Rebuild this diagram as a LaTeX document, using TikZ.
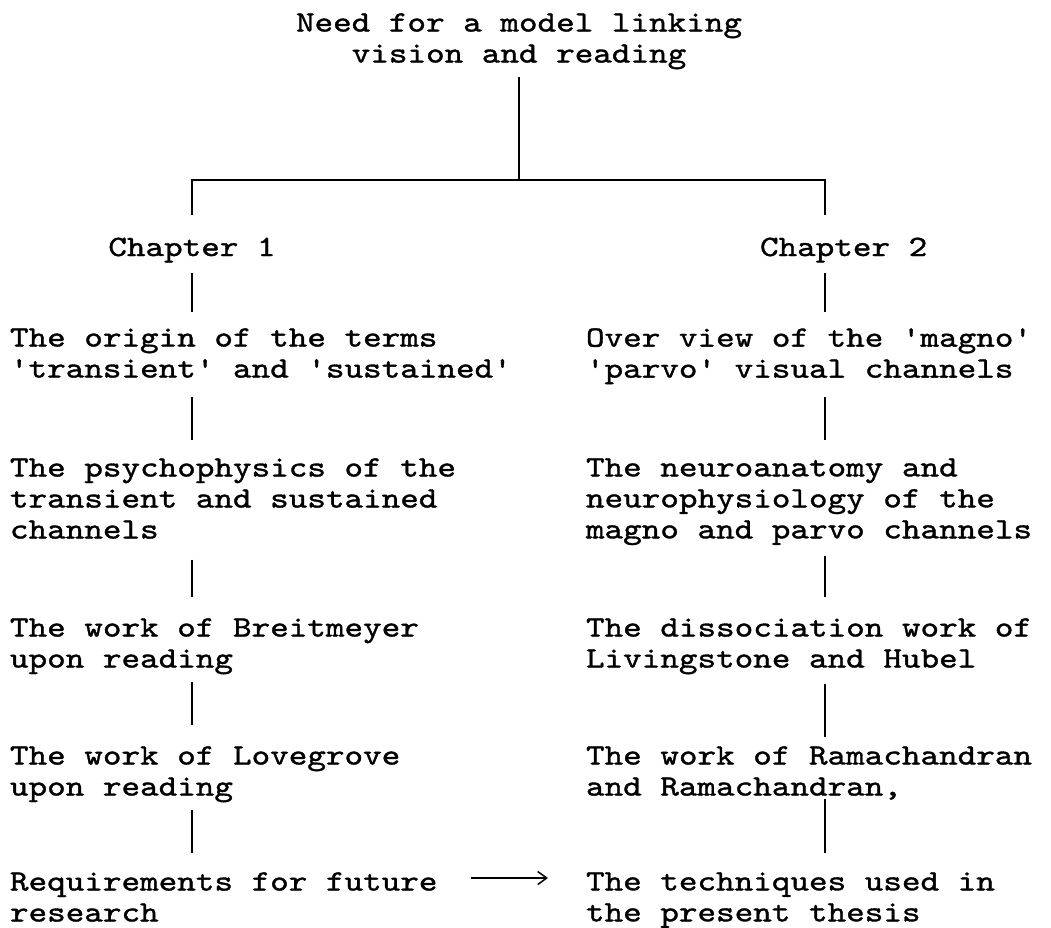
\documentclass[tikz,border=0pt]{standalone}
\usepackage{fontspec}
\setmonofont[FakeStretch=1.2,FakeBold=1.2]{lmmono10-regular.otf}
\usetikzlibrary{arrows.meta}
\begin{document}
\begin{tikzpicture}[x=1pt,y=-1pt,
  txt/.style={font=\fontsize{29.5}{31}\selectfont\ttfamily, inner sep=0pt, outer sep=0pt, align=left, anchor=north west,
    execute at begin node=\strut, execute at end node=\strut},
  link/.style={draw=black, line width=1.7pt},
  arr/.style={draw=black, line width=1.3pt, -{Straight Barb[length=9pt,width=13pt,line width=1.5pt]}}]
\path[use as bounding box, fill=white] (0,0) rectangle (1051,927);
\coordinate (L) at (192,0);
\coordinate (R) at (825,0);
\coordinate (bar) at (519,180);
\coordinate (ay) at (0,878);
% nodes
\node[txt, align=center, anchor=north] (title) at (519,13.3) {Need for a model linking\\vision and reading};
\node[txt, anchor=north] (ch1) at (192,234.3) {Chapter 1};
\node[txt] (ch2) at (760,234.3) {Chapter 2};
\node[txt] (o1) at (10,328.3) {The origin of the terms\\'transient' and 'sustained'};
\node[txt] (ov) at (586,328.3) {Over view of the 'magno'\\'parvo' visual channels};
\node[txt] (ps) at (10,458.3) {The psychophysics of the\\transient and sustained\\channels};
\node[txt] (ne) at (586,458.3) {The neuroanatomy and\\neurophysiology of the\\magno and parvo channels};
\node[txt] (br) at (10,618.3) {The work of Breitmeyer\\upon reading};
\node[txt] (di) at (586,618.3) {The dissociation work of\\Livingstone and Hubel};
\node[txt] (lo) at (10,746.3) {The work of Lovegrove\\upon reading};
\node[txt] (ra) at (586,746.3) {The work of Ramachandran\\and Ramachandran,};
\node[txt] (rq) at (10,872.3) {Requirements for future\\research};
\node[txt] (te) at (586,872.3) {The techniques used in\\the present thesis};
% connectors
\draw[link, shorten <=4.7pt] (title.south) -- (bar);
\draw[link, shorten >=19.3pt] (bar) -| (ch1.north -| L);
\draw[link, shorten >=19.3pt] (bar) -| (ch2.north -| R);
% left column
\draw[link, shorten <=7.7pt, shorten >=16.3pt] (ch1.south -| L) -- (o1.north -| L);
\draw[link, shorten <=9.7pt, shorten >=18.3pt] (o1.south -| L) -- (ps.north -| L);
\draw[link, shorten <=11.7pt, shorten >=21.3pt] (ps.south -| L) -- (br.north -| L);
\draw[link, shorten <=4.7pt, shorten >=21.3pt] (br.south -| L) -- (lo.north -| L);
\draw[link, shorten <=4.7pt, shorten >=19.3pt] (lo.south -| L) -- (rq.north -| L);
% right column
\draw[link, shorten <=7.7pt, shorten >=16.3pt] (ch2.south -| R) -- (ov.north -| R);
\draw[link, shorten <=9.7pt, shorten >=18.3pt] (ov.south -| R) -- (ne.north -| R);
\draw[link, shorten <=8.7pt, shorten >=21.3pt] (ne.south -| R) -- (di.north -| R);
\draw[link, shorten <=6.7pt, shorten >=9.3pt] (di.south -| R) -- (ra.north -| R);
\draw[link, shorten <=-6.3pt, shorten >=19.3pt] (ra.south -| R) -- (te.north -| R);
% arrow
\draw[arr, shorten <=34pt, shorten >=38pt] (rq.north east |- ay) -- (te.north west |- ay);
\end{tikzpicture}
\end{document}
